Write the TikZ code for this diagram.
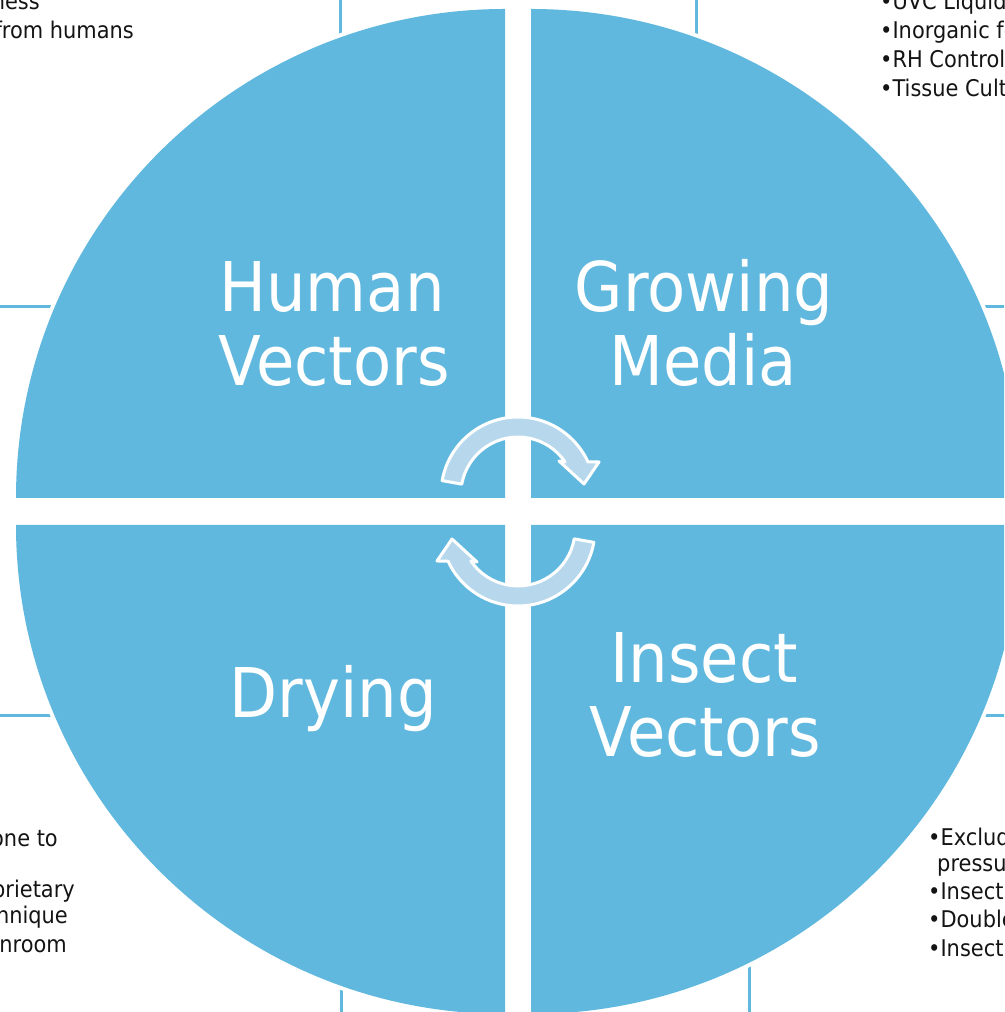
\documentclass[tikz,border=0pt]{standalone}
\usepackage{fontspec}
\setmainfont{DejaVu Sans}[FakeStretch=0.91]
\definecolor{qblue}{RGB}{96,184,222}
\definecolor{ablue}{RGB}{183,216,236}
\definecolor{txt}{RGB}{20,20,20}
\begin{document}
\begin{tikzpicture}[x=1pt,y=1pt,
  big/.style={text=white,font=\fontsize{68.6}{74}\selectfont,inner sep=0,anchor=base},
  small/.style={text=txt,font=\fontsize{23}{28}\selectfont,inner sep=0},
  boxline/.style={draw=qblue,line width=3pt},
  quad/.style={fill=qblue,preaction={draw=white,line width=8pt}},
  cyc/.style={fill=ablue,draw=white,line width=3pt,line join=round}]
\useasboundingbox (0,0) rectangle (1004,1012);
\clip (0,0) rectangle (1004,1012);
% text boxes behind the circle
\draw[boxline] (-10,705) rectangle (340,1022);
\draw[boxline] (696,705) rectangle (1014,1022);
\draw[boxline] (-10,-10) rectangle (341,296);
\draw[boxline] (749,-10) rectangle (1014,296);
% quadrants
\path[quad] (505,514) -- (16,514) arc[start angle=180,end angle=90,radius=489] -- cycle;
\path[quad] (531,514) -- (531,1003) arc[start angle=90,end angle=0,radius=489] -- cycle;
\path[quad] (505,487) -- (16,487) arc[start angle=180,end angle=270,radius=489] -- cycle;
\path[quad] (531,487) -- (1020,487) arc[start angle=0,end angle=-90,radius=489] -- cycle;
% quadrant titles
\node[big] (hv1) at (332,700) {Human};
\node[big] (hv2) at (334,626) {Vectors};
\node[big] (gm1) at (704,700) {Growing};
\node[big] (gm2) at (703,626) {Media};
\node[big] (dr) at (333,294) {Drying};
\node[big] (iv1) at (704,329) {Insect};
\node[big] (iv2) at (705,255) {Vectors};
% cycle arrows
\path[cyc] (442.17,531.37) arc[start angle=170,end angle=24.6,radius=77]
  -- (599,550) -- (584,528) -- (559,551) -- (565.1,550)
  arc[start angle=34.2,end angle=170,radius=57] -- cycle;
\begin{scope}[rotate around={180:(518,500.5)}]
\path[cyc] (442.17,531.37) arc[start angle=170,end angle=24.6,radius=77]
  -- (599,550) -- (584,528) -- (559,551) -- (565.1,550)
  arc[start angle=34.2,end angle=170,radius=57] -- cycle;
\end{scope}
% top-left text
\node[small,anchor=base east] (tl1) at (40,1002) {ness};
\node[small,anchor=base east] (tl2) at (134,973) {from humans};
% top-right text
\node[small,anchor=base west] (tr1) at (880,1002) {•UVC Liquid};
\node[small,anchor=base west] (tr2) at (880,973) {•Inorganic fe};
\node[small,anchor=base west] (tr3) at (880,944) {•RH Control};
\node[small,anchor=base west] (tr4) at (880,915) {•Tissue Cult};
% bottom-left text
\node[small,anchor=base east] (bl1) at (58,165) {one to};
\node[small,anchor=base east] (bl2) at (75,114) {prietary};
\node[small,anchor=base east] (bl3) at (68,88) {nnique};
\node[small,anchor=base east] (bl4) at (67,59) {nroom};
% bottom-right text
\node[small,anchor=base west] (br1) at (928,166) {•Exclude};
\node[small,anchor=base west] (br2) at (937,140) {pressure};
\node[small,anchor=base west] (br3) at (928,112) {•Insect};
\node[small,anchor=base west] (br4) at (928,84) {•Double};
\node[small,anchor=base west] (br5) at (928,55) {•Insect};
\end{tikzpicture}
\end{document}
